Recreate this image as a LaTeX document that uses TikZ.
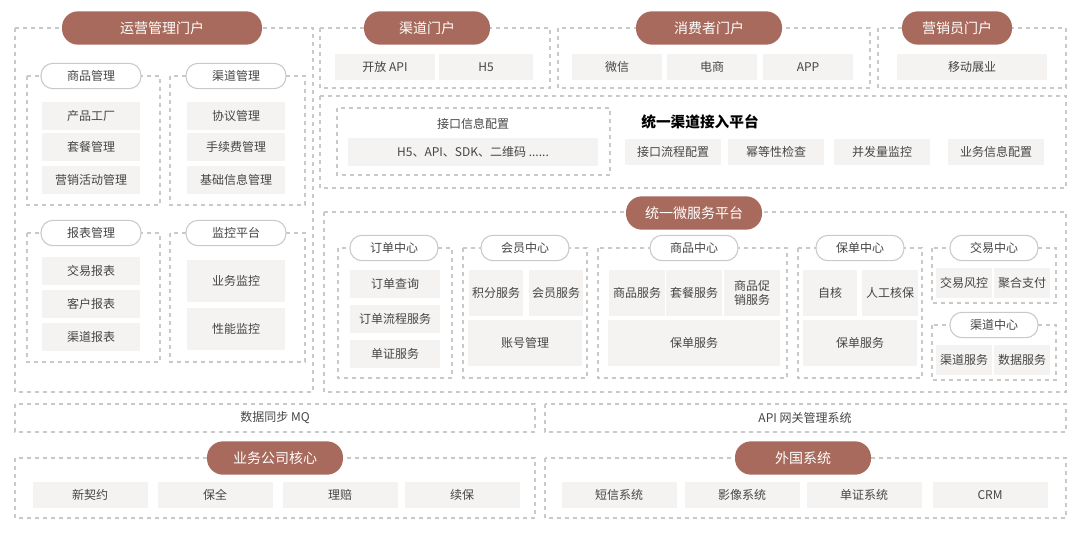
\documentclass[tikz,border=0pt]{standalone}
\usepackage{fontspec}
\setmainfont{Noto Sans CJK SC}
\usetikzlibrary{positioning}
\definecolor{pillbrown}{HTML}{A86A5C}
\definecolor{dashgray}{HTML}{C9C9C9}
\definecolor{cellgray}{HTML}{F5F3F2}
\definecolor{txtgray}{HTML}{454545}
\tikzset{
  region/.style={draw=dashgray, dashed, line width=0.8pt},
  pill/.style={fill=pillbrown, rounded corners=12pt, minimum width=#1*0.75pt,
    minimum height=25pt, text=white, font=\fontsize{10.5}{12}\selectfont},
  subpill/.style={fill=white, draw=dashgray, line width=0.8pt, rounded corners=9pt,
    minimum width=#1*0.75pt, minimum height=19pt, text=txtgray, font=\fontsize{9}{10}\selectfont},
  cell/.style 2 args={fill=cellgray, minimum width=#1*0.75pt, minimum height=#2*0.75pt,
    inner sep=1pt, text=txtgray, align=center, font=\fontsize{9}{11}\selectfont},
  plain/.style={text=txtgray, font=\fontsize{9}{10}\selectfont}
}
\begin{document}
\begin{tikzpicture}[x=0.75pt, y=-0.75pt]
\useasboundingbox (0,0) rectangle (1080,536);

% regions
\draw[region] (15,28) rectangle (313,392);
\draw[region] (320,28) rectangle (550,88);
\draw[region] (558,28) rectangle (870,88);
\draw[region] (878,28) rectangle (1066,88);
\draw[region] (320,96) rectangle (1066,188);
\draw[region] (337,108) rectangle (610,175);
\draw[region] (324,212) rectangle (1066,392);
\draw[region] (27,76) rectangle (160,205);
\draw[region] (170,76) rectangle (305,205);
\draw[region] (27,233) rectangle (160,362);
\draw[region] (170,233) rectangle (305,362);
\draw[region] (338,248) rectangle (452,378);
\draw[region] (463,248) rectangle (587,378);
\draw[region] (598,248) rectangle (787,378);
\draw[region] (798,248) rectangle (922,378);
\draw[region] (932,248) rectangle (1056,303);
\draw[region] (932,325) rectangle (1056,380);
\draw[region] (15,404) rectangle (535,432);
\draw[region] (545,404) rectangle (1066,432);
\draw[region] (15,458) rectangle (535,518);
\draw[region] (545,458) rectangle (1066,518);

% portals
\node[pill=200] (yyportal) at (162,28) {运营管理门户};
\node[pill=126] (qdportal) at (427,28) {渠道门户};
\node[pill=146] (xfportal) at (709,28) {消费者门户};
\node[pill=110] (yxportal) at (957,28) {营销员门户};

\node[cell={100}{26}] (openapi) at (385,67) {开放 API};
\node[cell={94}{26}] (hfive) at (486,67) {H5};
\node[cell={90}{26}] (wechat) at (617,67) {微信};
\node[cell={90}{26}] (ecom) at (712,67) {电商};
\node[cell={90}{26}] (app) at (808,67) {APP};
\node[cell={150}{26}] (mobile) at (972,67) {移动展业};

% left portal
\node[subpill=100] (spgl) at (91,76) {商品管理};
\node[cell={98}{28}] (cpgc) at (91,116) {产品工厂};
\node[cell={98}{28}] (tcgl) at (91,147) {套餐管理};
\node[cell={98}{28}] (yxhd) at (91,180) {营销活动管理};
\node[subpill=100] (qdgl) at (236,76) {渠道管理};
\node[cell={98}{28}] (xygl) at (236,116) {协议管理};
\node[cell={98}{28}] (sxf) at (236,147) {手续费管理};
\node[cell={98}{28}] (jcxx) at (236,180) {基础信息管理};
\node[subpill=100] (bbgl) at (91,233) {报表管理};
\node[cell={98}{28}] (jybb) at (91,271) {交易报表};
\node[cell={98}{28}] (khbb) at (91,304) {客户报表};
\node[cell={98}{28}] (qdbb) at (91,337) {渠道报表};
\node[subpill=100] (jkpt) at (236,233) {监控平台};
\node[cell={98}{42}] (ywjk) at (236,281) {业务监控};
\node[cell={98}{42}] (xnjk) at (236,329) {性能监控};

% access platform
\node[plain] (jkxx) at (473,124) {接口信息配置};
\node[cell={250}{28}] (sdk) at (473,152) {H5、API、SDK、二维码 ......};
\node[text=black, font=\fontsize{11}{12}\selectfont\bfseries] (tyqd) at (700,122) {统一渠道接入平台};
\node[cell={96}{26}] (lcpz) at (673,152) {接口流程配置};
\node[cell={96}{26}] (mdx) at (776,152) {幂等性检查};
\node[cell={96}{26}] (bfl) at (882,152) {并发量监控};
\node[cell={96}{26}] (ywpz) at (996,152) {业务信息配置};

% microservices
\node[pill=136] (wfw) at (694,213) {统一微服务平台};
\node[subpill=88] (ddzx) at (394,248) {订单中心};
\node[cell={90}{28}] (ddcx) at (395,284) {订单查询};
\node[cell={90}{28}] (ddlc) at (395,319) {订单流程服务};
\node[cell={90}{28}] (dzfw) at (395,354) {单证服务};
\node[subpill=88] (hyzx) at (525,248) {会员中心};
\node[cell={54}{46}] (jffw) at (496,293) {积分服务};
\node[cell={54}{46}] (hyfw) at (556,293) {会员服务};
\node[cell={114}{46}] (zhgl) at (525,343) {账号管理};
\node[subpill=88] (spzx) at (694,248) {商品中心};
\node[cell={56}{46}] (spfw) at (637,293) {商品服务};
\node[cell={56}{46}] (tcfw) at (694,293) {套餐服务};
\node[cell={56}{46}] (spcx) at (752,293) {商品促\\销服务};
\node[cell={172}{46}] (bdfwa) at (694,343) {保单服务};
\node[subpill=88] (bdzx) at (860,248) {保单中心};
\node[cell={54}{46}] (zh) at (830,293) {自核};
\node[cell={56}{46}] (rghb) at (890,293) {人工核保};
\node[cell={114}{46}] (bdfwb) at (860,343) {保单服务};
\node[subpill=88] (jyzx) at (994,248) {交易中心};
\node[cell={56}{30}] (jyfk) at (964,283) {交易风控};
\node[cell={56}{30}] (jhzf) at (1022,283) {聚合支付};
\node[subpill=88] (qdzx) at (994,325) {渠道中心};
\node[cell={56}{30}] (qdfw) at (964,360) {渠道服务};
\node[cell={56}{30}] (sjfw) at (1022,360) {数据服务};

% bottom
\node[plain] (mq) at (275,418) {数据同步 MQ};
\node[plain] (apigw) at (805,418) {API 网关管理系统};
\node[pill=136] (ywhx) at (275,458) {业务公司核心};
\node[cell={115}{26}] (xqy) at (90,495) {新契约};
\node[cell={115}{26}] (bq) at (215,495) {保全};
\node[cell={115}{26}] (lp) at (340,495) {理赔};
\node[cell={115}{26}] (xb) at (462,495) {续保};
\node[pill=136] (wgxt) at (803,458) {外国系统};
\node[cell={115}{26}] (dxxt) at (619,495) {短信系统};
\node[cell={115}{26}] (yxxt) at (742,495) {影像系统};
\node[cell={115}{26}] (dzxt) at (864,495) {单证系统};
\node[cell={115}{26}] (crm) at (990,495) {CRM};
\end{tikzpicture}
\end{document}
